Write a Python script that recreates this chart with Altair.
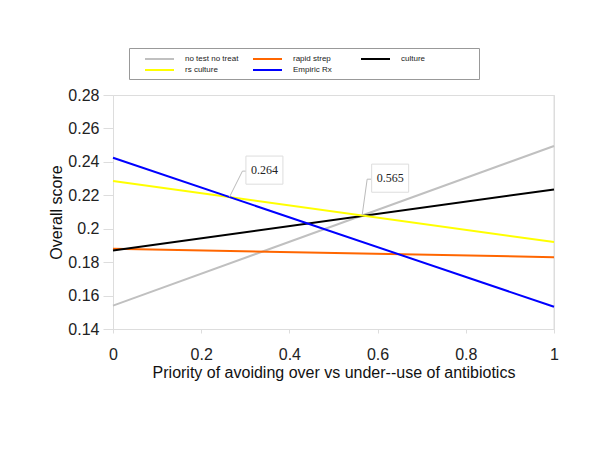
import altair as alt
import pandas as pd

# ---- data ----
series = ["no test no treat", "rapid strep", "culture", "rs culture", "Empiric Rx"]
colors = ["#c0c0c0", "#ff6600", "#000000", "#ffff00", "#0000ff"]
x_start = [0, 0, 0, 0, 0]
x_end = [1, 1, 1, 1, 1]
y_start = [0.154, 0.188, 0.187, 0.2285, 0.2425]
y_end = [0.2495, 0.183, 0.2235, 0.192, 0.1533]

ann_x = [0.264, 0.565]
ann_y = [0.2189, 0.2081]
ann_label = ["0.264", "0.565"]

y_ticks = [0.14, 0.16, 0.18, 0.2, 0.22, 0.24, 0.26, 0.28]
x_ticks = [0, 0.2, 0.4, 0.6, 0.8, 1]

rows = []
for s, xa, xb, ya, yb in zip(series, x_start, x_end, y_start, y_end):
    rows.append({"series": s, "x": xa, "y": ya})
    rows.append({"series": s, "x": xb, "y": yb})
df = pd.DataFrame(rows)
ann = pd.DataFrame({"x": ann_x, "y": ann_y, "label": ann_label})

FONT = "Liberation Sans"
AX = "#dddddd"

xscale = alt.Scale(domain=[0, 1], nice=False, zero=False)
yscale = alt.Scale(domain=[0.14, 0.28], nice=False, zero=False)

x_axis = alt.Axis(values=x_ticks, format="~g", grid=False, tickSize=4,
                  tickColor=AX, domainColor=AX, labelPadding=13,
                  labelFontSize=16, labelColor="#222", labelFont=FONT,
                  labelOverlap=False,
                  title="Priority of avoiding over vs under--use of antibiotics",
                  titleFont=FONT, titleFontSize=16, titleFontWeight="normal",
                  titleColor="#111", titlePadding=2, labelFlush=False)
y_axis = alt.Axis(values=y_ticks, tickCount=8, format="~g", grid=False, tickSize=10,
                  tickColor=AX, domainColor=AX, labelPadding=4,
                  labelFontSize=16, labelColor="#222", labelFont=FONT,
                  labelOverlap=False, labelFlush=False,
                  title="Overall score", titleFont=FONT, titleFontSize=16,
                  titleFontWeight="normal", titleColor="#111", titlePadding=3)

X = alt.X("x:Q", scale=xscale, axis=x_axis)
Y = alt.Y("y:Q", scale=yscale, axis=y_axis)

lines = alt.Chart(df).mark_line(strokeWidth=2).encode(
    x=X, y=Y,
    color=alt.Color("series:N", scale=alt.Scale(domain=series, range=colors),
                    sort=series,
                    legend=alt.Legend(title=" ", titleOrient="right", titlePadding=49,
                                      titleFontSize=8,
                                      orient="none", legendX=16, legendY=-47,
                                      columns=3, direction="horizontal", gridAlign="all",
                                      symbolType="M1,0H6.8", symbolSize=100,
                                      symbolStrokeWidth=2, labelOffset=39,
                                      labelFont=FONT, labelFontSize=8, labelColor="#222",
                                      columnPadding=3, rowPadding=1, padding=5,
                                      strokeColor="#999999", fillColor="white")),
    detail="series:N",
)

border = alt.Chart(pd.DataFrame({"x": [1]})).mark_rule(color=AX, strokeWidth=1).encode(x=X)

a1 = ann.iloc[[0]]
a2 = ann.iloc[[1]]

def annotation(d, dx, dy, lx, ly):
    lead = alt.Chart(d).mark_rule(color="#bbbbbb", strokeWidth=1, x2Offset=lx - 4, y2Offset=ly).encode(
        x=X, y=Y, x2="x:Q", y2="y:Q")
    lead2 = alt.Chart(d).mark_rule(color="#bbbbbb", strokeWidth=1, xOffset=lx - 4, yOffset=ly,
                                   x2Offset=lx, y2Offset=ly).encode(
        x=X, y=Y, x2="x:Q", y2="y:Q")
    box = alt.Chart(d).mark_point(shape="M-1,-0.76H1V0.76H-1Z", size=1369, filled=False,
                                  fill="white", fillOpacity=1, stroke="#dddddd", strokeWidth=1,
                                  opacity=1, xOffset=dx, yOffset=dy).encode(x=X, y=Y)
    txt = alt.Chart(d).mark_text(font="Liberation Serif", fontSize=12, color="#222",
                                 xOffset=dx, yOffset=dy).encode(x=X, y=Y, text="label:N")
    return [lead, lead2, box, txt]

layers = [border, lines] + annotation(a1, 35, -27, 17, -26) + annotation(a2, 28, -37, 9, -36)

chart = alt.layer(*layers).properties(
    width=441, height=234,
    autosize=alt.AutoSizeParams(type="none"),
    padding={"left": 105, "top": 87, "right": 38, "bottom": 127},
).configure_view(stroke=None).configure(background="white")

chart.save("out.html", embed_options={"renderer": "svg", "actions": False})
